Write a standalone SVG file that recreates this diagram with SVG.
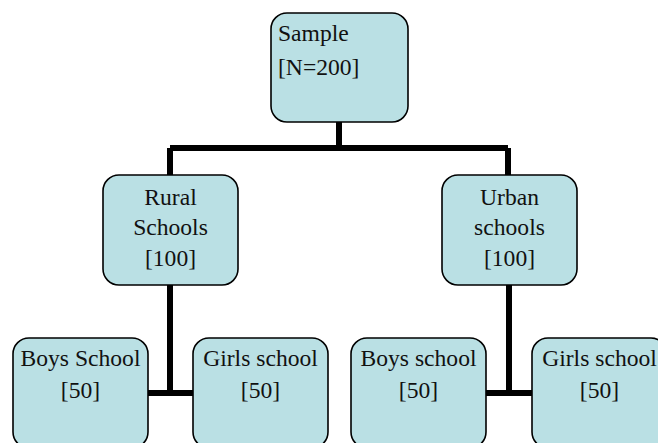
<svg xmlns="http://www.w3.org/2000/svg" width="658" height="443" viewBox="0 0 658 443">
<style>
.box{fill:#BAE0E4;stroke:#000;stroke-width:1.6}
text{font-family:'Liberation Serif','DejaVu Serif',serif;font-size:23.6px;fill:#111}
.c{text-anchor:middle}
.con{fill:none;stroke:#000;stroke-width:6}
</style>
<rect width="658" height="443" fill="#fff"/>
<g id="connectors">
<path class="con" d="M339 122V148M170 148H508M170 148V175M508 148V175"/>
<path class="con" d="M170 285V393M148 393H193"/>
<path class="con" d="M509 285V393M486 393H532"/>
</g>
<g id="sample">
<rect class="box" x="271" y="13" width="137" height="109" rx="16"/>
<text x="278" y="41">Sample</text>
<text x="278" y="75">[N=200]</text>
</g>
<g id="rural">
<rect class="box" x="103" y="175" width="135" height="110" rx="16"/>
<text class="c" x="170.5" y="205">Rural</text>
<text class="c" x="170.5" y="235">Schools</text>
<text class="c" x="170.5" y="266">[100]</text>
</g>
<g id="urban">
<rect class="box" x="442" y="175" width="135" height="110" rx="16"/>
<text class="c" x="509.5" y="205">Urban</text>
<text class="c" x="509.5" y="235">schools</text>
<text class="c" x="509.5" y="266">[100]</text>
</g>
<g id="rural-boys">
<rect class="box" x="13" y="338" width="135" height="110" rx="16"/>
<text class="c" x="80.5" y="366">Boys School</text>
<text class="c" x="80.5" y="398">[50]</text>
</g>
<g id="rural-girls">
<rect class="box" x="193" y="338" width="135" height="110" rx="16"/>
<text class="c" x="260.5" y="366">Girls school</text>
<text class="c" x="260.5" y="398">[50]</text>
</g>
<g id="urban-boys">
<rect class="box" x="351" y="338" width="135" height="110" rx="16"/>
<text class="c" x="418.5" y="366">Boys school</text>
<text class="c" x="418.5" y="398">[50]</text>
</g>
<g id="urban-girls">
<rect class="box" x="532" y="338" width="135" height="110" rx="16"/>
<text class="c" x="599.5" y="366">Girls school</text>
<text class="c" x="599.5" y="398">[50]</text>
</g>
</svg>
